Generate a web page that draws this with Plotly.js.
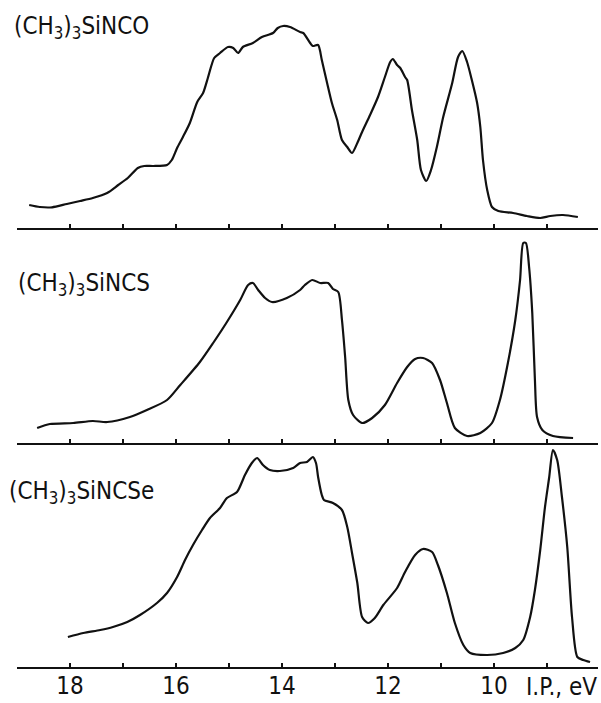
<!DOCTYPE html>
<html>
<head>
<meta charset="utf-8">
<script src="https://cdn.plot.ly/plotly-3.0.1.min.js"></script>
<style>html,body{margin:0;padding:0;background:#fff;}#chart{width:601px;height:703px;}</style>
</head>
<body>
<div id="chart"></div>
<script>
// Ionization energy (eV) and relative intensity (arb. units) for each spectrum
const ncoIE = [18.77,18.57,18.34,18.06,17.81,17.57,17.30,17.09,16.91,16.72,16.60,16.43,16.17,16.08,15.98,15.87,15.74,15.60,15.49,15.40,15.28,15.17,15.02,14.92,14.83,14.74,14.55,14.38,14.17,14.08,13.98,13.85,13.66,13.60,13.47,13.42,13.32,13.25,13.15,13.06,12.96,12.87,12.77,12.68,12.58,12.49,12.34,12.19,12.06,11.96,11.91,11.83,11.77,11.68,11.64,11.55,11.45,11.38,11.28,11.19,11.08,10.96,10.79,10.68,10.60,10.51,10.42,10.32,10.26,10.21,10.13,10.04,9.92,9.64,9.38,9.13,8.94,8.70,8.42];
const ncoI  = [23,21,20.7,24,27,30,35,43,50,60,62,62,63,68,80,91,105,126,135,150,170,175,181,180,175,181,185,191,195,200,202,201,196,195,185,182,183,168,145,125,108,88,81,75,85,96,113,131,151,166,169,163,160,151,148,118,88,58,47,58,81,111,145,171,177,166,148,125,101,68,38,21,17,15,12,10,12,13,11];

const ncsIE = [18.62,18.38,17.94,17.57,17.30,16.87,16.55,16.17,15.92,15.55,15.30,15.04,14.79,14.64,14.55,14.45,14.32,14.19,13.91,13.66,13.57,13.43,13.28,13.13,13.04,12.94,12.87,12.81,12.75,12.66,12.49,12.30,12.06,11.83,11.64,11.49,11.34,11.17,11.02,10.89,10.74,10.51,10.26,10.04,9.89,9.74,9.60,9.51,9.45,9.40,9.34,9.28,9.23,9.19,9.09,8.89,8.51];
const ncsI  = [15,19,20,22,21,26,33,43,58,81,100,121,143,158,160,153,145,141,145,153,158,163,160,160,154,151,123,86,43,28,20,25,38,60,76,84,85,80,63,40,15,7,10,20,43,80,123,163,200,200,176,130,63,26,13,7,5];

const ncseIE = [18.04,17.75,17.43,17.19,16.92,16.68,16.36,16.17,15.98,15.83,15.68,15.51,15.36,15.17,15.04,14.85,14.70,14.57,14.47,14.36,14.23,14.04,13.79,13.66,13.53,13.42,13.36,13.32,13.25,13.21,13.04,12.87,12.77,12.68,12.58,12.49,12.38,12.25,12.09,11.83,11.68,11.49,11.34,11.17,11.06,10.89,10.74,10.58,10.45,10.13,9.83,9.60,9.45,9.32,9.23,9.13,9.04,8.96,8.89,8.81,8.72,8.62,8.53,8.43,8.32,8.19];
const ncseI  = [30,34,37,40,45,52,64,74,90,107,122,137,149,159,169,175,192,204,209,202,197,196,199,204,205,210,204,190,172,167,164,157,140,114,84,50,44,49,62,79,95,112,118,115,102,74,44,22,14,12,14,19,27,50,77,117,160,190,217,207,170,120,50,10,7,5];

const labels = ["(CH<sub>3</sub>)<sub>3</sub>SiNCO", "(CH<sub>3</sub>)<sub>3</sub>SiNCS", "(CH<sub>3</sub>)<sub>3</sub>SiNCSe"];
const axisLabel = "I.P., eV";

const FONT = "DejaVu Sans Condensed, Liberation Sans Narrow, DejaVu Sans, sans-serif";
const lineStyle = {color:"#111", width:2.2, shape:"spline", smoothing:0.7};

const traces = [
  {x:ncoIE, y:ncoI, xaxis:"x3", yaxis:"y3", mode:"lines", line:lineStyle, hoverinfo:"skip"},
  {x:ncsIE, y:ncsI, xaxis:"x2", yaxis:"y2", mode:"lines", line:lineStyle, hoverinfo:"skip"},
  {x:ncseIE, y:ncseI, xaxis:"x", yaxis:"y", mode:"lines", line:lineStyle, hoverinfo:"skip"}
];

const xBase = {
  range:[19.0, 8.04], showgrid:false, zeroline:false, showline:true, linecolor:"#111", linewidth:1.6,
  ticks:"inside", ticklen:4, tickwidth:1.4, tickcolor:"#111", tickmode:"linear", tick0:0, dtick:2,
  minor:{ticks:"inside", ticklen:4, tickwidth:1.4, tickcolor:"#111", tickmode:"linear", tick0:0, dtick:1, showgrid:false},
  tickfont:{family:FONT, size:24, color:"#111"}
};
const yBase = {showgrid:false, zeroline:false, showline:false, showticklabels:false, ticks:""};

const PH = 667;
const layout = {
  width:601, height:703,
  margin:{l:17, r:3, t:0, b:36},
  paper_bgcolor:"#fff", plot_bgcolor:"#fff",
  showlegend:false,
  xaxis: Object.assign({}, xBase, {anchor:"y", ticklabelstandoff:-3}),
  xaxis2: Object.assign({}, xBase, {anchor:"y2", showticklabels:false}),
  xaxis3: Object.assign({}, xBase, {anchor:"y3", showticklabels:false}),
  yaxis: Object.assign({}, yBase, {domain:[0, 1-445/PH], range:[0,222]}),
  yaxis2: Object.assign({}, yBase, {domain:[1-443/PH, 1-232/PH], range:[0,211]}),
  yaxis3: Object.assign({}, yBase, {domain:[1-228/PH, 1], range:[0,228]}),
  annotations:[
    {text:labels[0], xref:"paper", yref:"paper", x:(12-17)/581, y:1-27/PH, xanchor:"left", yanchor:"middle", showarrow:false, font:{family:FONT, size:24, color:"#111"}},
    {text:labels[1], xref:"paper", yref:"paper", x:(16-17)/581, y:1-284/PH, xanchor:"left", yanchor:"middle", showarrow:false, font:{family:FONT, size:24, color:"#111"}},
    {text:labels[2], xref:"paper", yref:"paper", x:(7-17)/581, y:1-492/PH, xanchor:"left", yanchor:"middle", showarrow:false, font:{family:FONT, size:24, color:"#111"}},
    {text:axisLabel, xref:"paper", yref:"paper", x:(599-17)/581, y:-20/PH, xanchor:"right", yanchor:"middle", showarrow:false, font:{family:FONT, size:24, color:"#111"}}
  ]
};

Plotly.newPlot("chart", traces, layout, {staticPlot:true, displayModeBar:false});
</script>
</body>
</html>
